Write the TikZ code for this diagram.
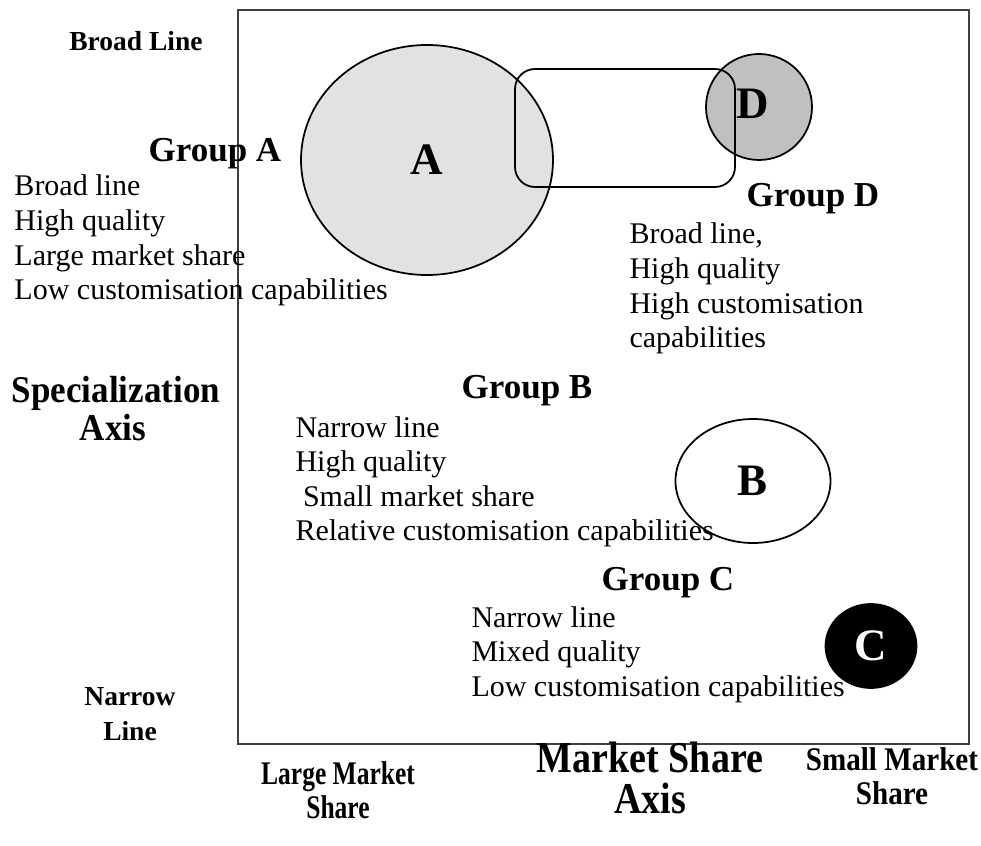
\documentclass[tikz,border=0pt]{standalone}
\usepackage{fontspec}
\usepackage{graphicx}
\setmainfont{Liberation Serif}
\usetikzlibrary{shapes.geometric}
\definecolor{afill}{RGB}{226,226,226}
\definecolor{dfill}{RGB}{192,192,192}
\tikzset{
  body/.style={font=\fontsize{12}{13.8}\selectfont, inner sep=0pt, anchor=base west},
  grp/.style={font=\fontsize{14}{16}\selectfont\bfseries, inner sep=0pt, anchor=base},
  axislbl/.style={font=\fontsize{14}{16}\selectfont\bfseries, inner sep=0pt, anchor=base},
  sidelbl/.style={font=\fontsize{11}{13}\selectfont\bfseries, inner sep=0pt, anchor=base},
  bottomlbl/.style={font=\fontsize{12}{14}\selectfont\bfseries, inner sep=0pt, anchor=base},
  letter/.style={font=\fontsize{18}{20}\selectfont\bfseries},
  shapeline/.style={draw=black, line width=0.7pt},
}
\begin{document}
\begin{tikzpicture}[x=0.4pt,y=-0.4pt]
\useasboundingbox (0,0) rectangle (981,846);
% frame
\node[draw=black!75, line width=0.9pt, minimum width=292.4pt, minimum height=293.6pt, inner sep=0pt] (frame) at (603.5,377) {};
% circle A
\node[ellipse, shapeline, fill=afill, minimum width=100.8pt, minimum height=92pt, inner sep=0pt, letter] (A) at (427,160) {A};
% circle D
\node[circle, shapeline, fill=dfill, minimum size=42.4pt, inner sep=0pt] (D) at (759,107) {};
\node[letter, inner sep=0pt] (Dl) at (753,104) {D};
% rounded rectangle
\node[shapeline, rounded corners=8pt, minimum width=88pt, minimum height=47.2pt, inner sep=0pt] (R) at (625,128) {};
% ellipse B
\node[ellipse, shapeline, minimum width=62pt, minimum height=49.6pt, inner sep=0pt, letter] (B) at (753,481) {B};
% circle C
\node[ellipse, shapeline, fill=black, minimum width=36.4pt, minimum height=33.6pt, inner sep=0pt, letter, text=white] (C) at (871,646) {C};

% side labels
\node[sidelbl] (broad) at (136,51) {Broad Line};
\node[sidelbl] (narrow1) at (130,705) {Narrow};
\node[sidelbl] (narrow2) at (130,740) {Line};
\node[axislbl] (spec1) at (116,403) {\scalebox{1}[1.08]{Specialization}};
\node[axislbl] (spec2) at (113,440) {\scalebox{1}[1.08]{Axis}};

% bottom labels
\node[bottomlbl] (lm1) at (338,784) {\scalebox{0.85}[1.1]{Large Market}};
\node[bottomlbl] (lm2) at (338,818) {\scalebox{0.85}[1.1]{Share}};
\node[axislbl, font=\fontsize{16}{18}\selectfont\bfseries] (ms1) at (650,772) {\scalebox{0.95}[1.1]{Market Share}};
\node[axislbl, font=\fontsize{16}{18}\selectfont\bfseries] (ms2) at (650,813) {\scalebox{0.95}[1.1]{Axis}};
\node[bottomlbl] (sm1) at (892,770) {\scalebox{0.97}[1.1]{Small Market}};
\node[bottomlbl] (sm2) at (892,804) {\scalebox{0.97}[1.1]{Share}};

% Group A
\node[grp] (ga) at (215,162) {Group A};
\node[body] (ga1) at (14,196) {Broad line};
\node[body] (ga2) at (14,230.5) {High quality};
\node[body] (ga3) at (14,265) {Large market share};
\node[body] (ga4) at (14,299.5) {Low customisation capabilities};

% Group D
\node[grp] (gd) at (813,207) {Group D};
\node[body] (gd1) at (629,244) {Broad line,};
\node[body] (gd2) at (629,278.5) {High quality};
\node[body] (gd3) at (629,313) {High customisation};
\node[body] (gd4) at (629,347.5) {capabilities};

% Group B
\node[grp] (gb) at (527,399) {Group B};
\node[body] (gb1) at (295,437) {Narrow line};
\node[body] (gb2) at (295,471.5) {High quality};
\node[body] (gb3) at (295,506) {\ Small market share};
\node[body] (gb4) at (295,540.5) {Relative customisation capabilities};

% Group C
\node[grp] (gc) at (668,590) {Group C};
\node[body] (gc1) at (471,627) {Narrow line};
\node[body] (gc2) at (471,661.5) {Mixed quality};
\node[body] (gc3) at (471,696) {Low customisation capabilities};
\end{tikzpicture}
\end{document}
